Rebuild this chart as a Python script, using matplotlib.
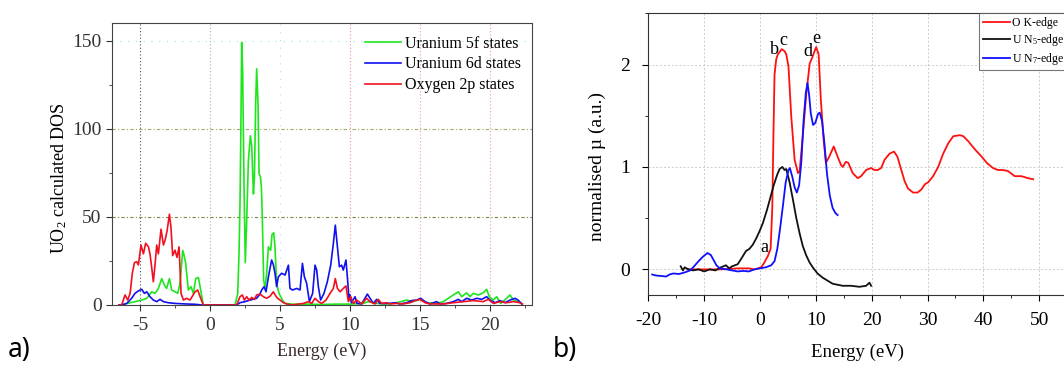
import matplotlib
matplotlib.use("Agg")
import matplotlib.pyplot as plt
from matplotlib.ticker import MultipleLocator

plt.rcParams['font.family'] = ['Liberation Serif', 'DejaVu Serif']
plt.rcParams['mathtext.fontset'] = 'custom'
plt.rcParams['mathtext.rm'] = 'Liberation Serif'
plt.rcParams['mathtext.it'] = 'Liberation Serif:italic'
plt.rcParams['axes.unicode_minus'] = False

# ---- a) calculated DOS of UO2 ----
e_5f = [-6.5, -6.3, -6.07, -5.36, -4.88, -4.52, -4.17, -3.93, -3.69, -3.45, -3.26, -3.1,
        -2.9, -2.74, -2.5, -2.31, -2.15, -2.07, -1.95, -1.85, -1.74, -1.55, -1.36, -1.19,
        -1.02, -0.83, -0.67, -0.48, 1.79, 1.98, 2.07, 2.14, 2.21, 2.26, 2.33, 2.43, 2.52,
        2.62, 2.74, 2.88, 2.98, 3.1, 3.17, 3.26, 3.33, 3.43, 3.5, 3.6, 3.67, 3.74, 3.83,
        3.93, 4.05, 4.17, 4.33, 4.43, 4.55, 4.64, 4.76, 4.93, 5.17, 5.36, 6.0, 7.0, 8.0,
        9.0, 10.0, 10.95, 11.3, 11.9, 12.5, 13.33, 14.05, 14.5, 15.0, 15.48, 16.19, 16.67,
        17.02, 17.38, 17.74, 17.98, 18.33, 18.57, 18.81, 19.17, 19.52, 19.76, 19.95, 20.24,
        20.48, 20.76, 21.19, 21.43, 21.67, 22.02, 22.3]
dos_5f = [0, 0, 0.6, 1.9, 2.8, 3.8, 7.5, 6.6, 9.4, 15, 11.3, 9.4,
          15, 8.5, 7.5, 6.6, 12, 19, 31, 28, 23.6, 8.5, 10.4, 6.6,
          15, 15.6, 8.5, 0, 0, 6.6, 29, 57, 104.6, 149, 133, 67, 24,
          48, 82, 96, 90, 63, 72, 114, 134, 114, 74.6, 72.7, 67, 48, 14,
          10, 18, 33, 31, 40, 41, 33, 12, 6.6, 2.8, 0.9, 0.4, 0.5, 0.3,
          0.5, 0.5, 0.9, 1.9, 0.9, 0.5, 1.3, 2.8, 1.9, 3.2, 1.3, 0.9, 1.9,
          3.8, 5.7, 7.5, 4.7, 6.9, 4.7, 6.6, 5.7, 6.9, 8.9, 4.7, 2.8,
          4.7, 0.9, 3.8, 5.7, 2.8, 1.9, 0.5]

e_6d = [-6.5, -6.31, -5.95, -5.6, -5.36, -5.12, -4.88, -4.69, -4.52, -4.29, -4.05, -3.81,
        -3.57, -3.33, -2.98, -2.5, -1.79, -1.07, -0.6, 1.9, 2.14, 2.5, 2.86, 3.33, 3.57,
        3.69, 3.86, 4.0, 4.17, 4.4, 4.52, 4.64, 4.76, 4.88, 5.12, 5.36, 5.6, 5.71, 5.9,
        6.19, 6.43, 6.6, 6.74, 6.9, 7.1, 7.33, 7.5, 7.62, 7.74, 7.9, 8.14, 8.38, 8.62,
        8.81, 8.95, 9.1, 9.24, 9.4, 9.52, 9.71, 9.83, 9.93, 10.0, 10.1, 10.36, 10.5,
        10.83, 11.24, 11.43, 11.67, 11.9, 12.14, 12.5, 12.86, 13.21, 13.57, 14.05, 14.4,
        14.76, 15.05, 15.36, 15.71, 16.19, 16.43, 16.9, 17.38, 17.74, 17.98, 18.33, 18.69,
        19.05, 19.4, 19.76, 20.0, 20.36, 20.71, 21.07, 21.43, 21.79, 22.0, 22.3]
dos_6d = [0, 0, 0.9, 3.8, 6.6, 8, 8.9, 6.6, 7.5, 4.7, 2.8, 1.9,
          3.2, 1.9, 1.3, 0.9, 0.6, 0.4, 0, 0, 1.3, 1.9, 2.8, 3.8, 6.2,
          8.5, 10.4, 7.5, 16, 25.5, 23, 18, 10.4, 16, 18, 17, 22.6, 9.4, 8.5,
          9.4, 8.5, 23.6, 16, 12.3, 2, 6.6, 22.6, 19.8, 10.4, 2.8, 6.6, 13.2, 22.6,
          34.9, 45.3, 33, 21.7, 22.6, 19.8, 25.5, 14, 2.8, 5.7, 1.3, 4.7, 0.9,
          0.6, 6.2, 3.8, 0.9, 3.2, 0.9, 0.9, 0.9, 1.3, 0.6, 1.3, 2.5,
          2.8, 3.8, 1.9, 0.6, 1.9, 0.6, 0.9, 1.9, 3.2, 1.9, 3.8, 2.8,
          3.8, 3.2, 4.7, 2.8, 1.3, 2.5, 1.3, 2.8, 3.8, 2.8, 0.5]

e_2p = [-6.5, -6.31, -6.07, -5.88, -5.71, -5.55, -5.4, -5.24, -5.12, -4.93, -4.76, -4.6,
        -4.4, -4.29, -4.17, -4.05, -3.93, -3.81, -3.69, -3.5, -3.33, -3.21, -3.07, -2.9,
        -2.79, -2.67, -2.5, -2.36, -2.21, -2.07, -1.9, -1.67, -1.43, -1.26, -1.07, -0.88,
        -0.71, -0.48, 1.9, 2.14, 2.31, 2.45, 2.62, 2.79, 2.98, 3.17, 3.33, 3.57, 3.81,
        4.05, 4.29, 4.52, 4.76, 5.0, 5.24, 5.48, 5.83, 6.19, 6.67, 7.02, 7.26, 7.5, 7.74,
        7.98, 8.29, 8.57, 8.81, 8.95, 9.1, 9.29, 9.52, 9.71, 9.88, 10.05, 10.24, 10.48,
        10.83, 11.19, 11.43, 11.79, 12.02, 12.26, 12.62, 12.86, 13.33, 13.81, 14.29, 14.64,
        15.0, 15.36, 15.71, 16.67, 17.38, 18.1, 18.81, 19.52, 19.88, 20.24, 20.71, 21.19,
        21.67, 22.14, 22.3]
dos_2p = [0, 0, 5.7, 2.8, 6.6, 18, 24, 24.6, 22.7, 34, 29, 35,
          33, 29, 21.5, 13.2, 22.7, 34, 29, 43, 34, 36.8, 42, 51.5,
          44, 28, 31.1, 27, 33, 6.6, 2.8, 3.8, 2.8, 5, 7.5, 8.5,
          4.7, 0, 0, 4.7, 5.7, 2.8, 4.7, 2.8, 4.3, 3.2, 5.7, 6.2, 4.7,
          3.8, 5, 7.5, 4.3, 2.8, 1.3, 0.6, 0, 0.4, 0.9, 1.9, 0.9, 3.8, 1.9,
          0.9, 2.8, 6.6, 9.4, 15, 9.4, 7.5, 9.4, 10.8, 1.9, 4.7, 0.9, 2.8,
          0.6, 3.8, 1.9, 0.6, 3.2, 0.9, 1.3, 0.6, 0.9, 0.6, 1.3, 2.5,
          3.2, 1.3, 0.6, 0.6, 1.3, 1.9, 2.5, 1.9, 3.2, 0.9, 1.9, 1.3,
          1.9, 1.3, 0.5]

# ---- b) measured edges ----
e_ok = [-13, -10, -7, -4, -2, -1, 0.2, 0.7, 1.4, 1.9, 2.2, 2.4, 2.6, 2.9, 3.2, 3.9, 4.4,
        4.7, 5.1, 5.6, 6.2, 6.8, 7.1, 7.7, 8.3, 8.9, 9.3, 9.7, 10.05, 10.5, 10.9, 11.4,
        11.8, 12.1, 12.4, 13.2, 13.9, 14.5, 14.8, 15.4, 15.8, 16.6, 17.5, 18.1, 19.0, 19.9,
        20.5, 21.1, 21.7, 22.3, 23.2, 24.0, 24.6, 25.3, 25.9, 26.5, 27.4, 28.2, 28.9, 29.5,
        30.1, 31.0, 31.9, 32.8, 33.7, 34.6, 35.8, 36.4, 37.3, 38.5, 39.7, 40.6, 41.7, 42.6,
        43.5, 44.4, 45.6, 46.8, 48.0, 48.9]
mu_ok = [0.0, 0.0, 0.0, 0.01, 0.01, 0.0, 0.02, 0.06, 0.13, 0.2, 0.6, 1.3, 1.9, 2.05, 2.1,
         2.15, 2.13, 2.1, 1.98, 1.49, 1.07, 0.94, 0.96, 1.33, 1.72, 2.01, 2.06, 2.12, 2.17,
         2.1, 1.65, 1.26, 1.04, 1.07, 1.1, 1.2, 1.1, 1.02, 1.0, 1.05, 1.04, 0.94, 0.89, 0.91,
         0.97, 0.99, 0.97, 0.97, 0.99, 1.07, 1.13, 1.15, 1.1, 0.97, 0.86, 0.79, 0.75, 0.75,
         0.78, 0.83, 0.85, 0.91, 1.0, 1.13, 1.23, 1.30, 1.31, 1.30, 1.25, 1.17, 1.1, 1.04,
         0.99, 0.97, 0.97, 0.96, 0.91, 0.91, 0.89, 0.88]

e_n5 = [-14.2, -13.8, -13.5, -12.8, -12, -11, -10, -9, -8, -7, -6.1, -5.5, -5, -4, -3.4,
        -2.5, -1.9, -1.3, -0.7, -0.1, 0.5, 1.25, 1.85, 2.45, 3.05, 3.5, 4.0, 4.4, 4.7, 5.3,
        5.9, 6.5, 7.1, 7.65, 8.25, 8.85, 9.45, 10.3, 11.2, 12.1, 13.0, 13.9, 14.8, 16.3,
        17.8, 19.0, 19.6, 19.9]
mu_n5 = [0.03, -0.01, 0.02, 0.0, -0.01, 0.0, -0.02, 0.0, -0.01, 0.02, 0.04, 0.01, 0.03,
         0.05, 0.1, 0.18, 0.2, 0.24, 0.3, 0.37, 0.45, 0.58, 0.7, 0.82, 0.92, 0.98, 1.0,
         0.97, 0.98, 0.85, 0.68, 0.5, 0.35, 0.23, 0.14, 0.07, 0.02, -0.04, -0.08, -0.11,
         -0.14, -0.15, -0.16, -0.16, -0.17, -0.16, -0.13, -0.16]

e_n7 = [-19.3, -18.6, -17.5, -16.8, -16.2, -15.5, -14.5, -13.5, -12.5, -11.8, -11, -10.3,
        -9.4, -8.8, -8.3, -7.8, -7.2, -6, -5, -4, -3, -2, -1, 0, 1, 2, 2.6, 3.1, 3.6, 4.1,
        4.6, 5.1, 5.35, 5.8, 6.2, 6.6, 7.0, 7.4, 7.8, 8.2, 8.5, 8.8, 9.1, 9.5, 9.9, 10.4,
        10.7, 11.1, 11.5, 12.0, 12.5, 13.0, 13.5, 13.9]
mu_n7 = [-0.05, -0.06, -0.065, -0.07, -0.05, -0.04, -0.045, -0.03, -0.01, 0.03, 0.08, 0.12,
         0.16, 0.14, 0.09, 0.04, 0.01, 0.0, -0.01, -0.02, -0.015, -0.02, 0.0, 0.01, 0.02,
         0.04, 0.08, 0.2, 0.4, 0.62, 0.85, 0.97, 0.99, 0.9, 0.8, 0.75, 0.82, 1.05, 1.45,
         1.72, 1.82, 1.7, 1.52, 1.41, 1.43, 1.52, 1.53, 1.45, 1.25, 0.93, 0.72, 0.6, 0.55,
         0.53]

peak_labels = ['a', 'b', 'c', 'd', 'e']
peak_e = [0.84, 2.5, 4.2, 8.5, 10.15]
peak_mu = [0.21, 2.15, 2.23, 2.13, 2.25]

fig = plt.figure(figsize=(10.64, 3.65), dpi=100)

# left panel
ax1 = fig.add_axes([0.1053, 0.1644, 0.3947, 0.7726])
for x, c, ls in [(-5, '#555555', (0, (1, 2))), (0, '#a8b0c8', (0, (1, 2))),
                 (5, '#9ee8ee', (0, (1, 6))), (10, '#e89090', (0, (1, 2))),
                 (15, '#e8a0a0', (0, (1, 2))), (20, '#e8a0a0', (0, (1, 2)))]:
    ax1.axvline(x, color=c, lw=0.8, ls=ls, zorder=0)
for y, c, ls in [(50, '#7a8a40', (0, (3, 2, 1, 2))), (100, '#a0b060', (0, (3, 2, 1, 2))),
                 (150, '#90e8e8', (0, (1, 6)))]:
    ax1.axhline(y, color=c, lw=0.8, ls=ls, zorder=0)

ax1.plot(e_5f, dos_5f, color='#1ee61e', lw=1.2, label='Uranium 5f states')
ax1.plot(e_6d, dos_6d, color='#1010f0', lw=1.2, label='Uranium 6d states')
ax1.plot(e_2p, dos_2p, color='#f01020', lw=1.2, label='Oxygen 2p states')
ax1.set_xlim(-7, 23)
ax1.set_ylim(0, 160)
ax1.xaxis.set_major_locator(MultipleLocator(5))
ax1.xaxis.set_minor_locator(MultipleLocator(2.5))
ax1.yaxis.set_major_locator(MultipleLocator(50))
ax1.yaxis.set_minor_locator(MultipleLocator(25))
ax1.tick_params(which='both', direction='out', labelsize=14, colors='#333333')
ax1.tick_params(which='major', length=4)
ax1.tick_params(which='minor', length=2.5)
ax1.tick_params(axis='x', pad=5)
for sp in ax1.spines.values():
    sp.set_color('#444444')
ax1.set_xlabel('Energy (eV)', fontsize=13, color='#3a2a2a', labelpad=6)
ax1.set_ylabel(r'UO$_\mathrm{2}$ calculated DOS', fontsize=13)
ax1.yaxis.set_label_coords(-0.103, 0.45)
ax1.legend(loc='upper left', bbox_to_anchor=(0.588, 0.978), frameon=False, fontsize=11.5,
           handlelength=2.2, handletextpad=0.3, labelspacing=0.3, borderaxespad=0)

# right panel (runs off the right edge of the figure)
ax2 = fig.add_axes([0.6093, 0.1918, 0.3937, 0.7718])
ax2.grid(True, which='major', color='#cccccc', ls=(0, (2, 2)), lw=0.7)
ax2.plot(e_ok, mu_ok, color='#ff1010', lw=1.3, label='O K-edge')
ax2.plot(e_n5, mu_n5, color='#111111', lw=1.3, label=r'U N$_\mathrm{5}$-edge')
ax2.plot(e_n7, mu_n7, color='#1010ff', lw=1.3, label=r'U N$_\mathrm{7}$-edge')
for lab, x, y in zip(peak_labels, peak_e, peak_mu):
    ax2.text(x, y, lab, fontsize=13, ha='center', va='center')
ax2.set_xlim(-20, 55)
ax2.set_ylim(-0.25, 2.5)
ax2.xaxis.set_major_locator(MultipleLocator(10))
ax2.xaxis.set_minor_locator(MultipleLocator(5))
ax2.yaxis.set_major_locator(MultipleLocator(1))
ax2.yaxis.set_minor_locator(MultipleLocator(0.5))
ax2.tick_params(which='both', direction='out', labelsize=14)
ax2.tick_params(which='major', length=4)
ax2.tick_params(which='minor', length=2.5)
ax2.tick_params(axis='x', pad=8)
ax2.tick_params(axis='y', pad=9)
ax2.spines['right'].set_visible(False)
for sp in ax2.spines.values():
    sp.set_color('#333333')
ax2.set_xlabel('Energy (eV)', fontsize=13.5, labelpad=11)
ax2.set_ylabel('normalised µ (a.u.)', fontsize=14)
ax2.yaxis.set_label_coords(-0.101, 0.455)
leg = ax2.legend(loc='upper left', bbox_to_anchor=(979 / 1064, 1 - 13.5 / 365),
                 bbox_transform=fig.transFigure, fontsize=8.5, fancybox=False,
                 handlelength=2.3, handletextpad=0.2, labelspacing=0.25,
                 borderaxespad=0, borderpad=0.3)
leg.get_frame().set_edgecolor('#555555')
leg.get_frame().set_linewidth(0.8)

fig.text(8 / 1064, 1 - 350 / 365, 'a)', fontsize=19, family='Noto Sans', va='center')
fig.text(553 / 1064, 1 - 350 / 365, 'b)', fontsize=19, family='Noto Sans', va='center')

fig.savefig('out.png', dpi=100)
